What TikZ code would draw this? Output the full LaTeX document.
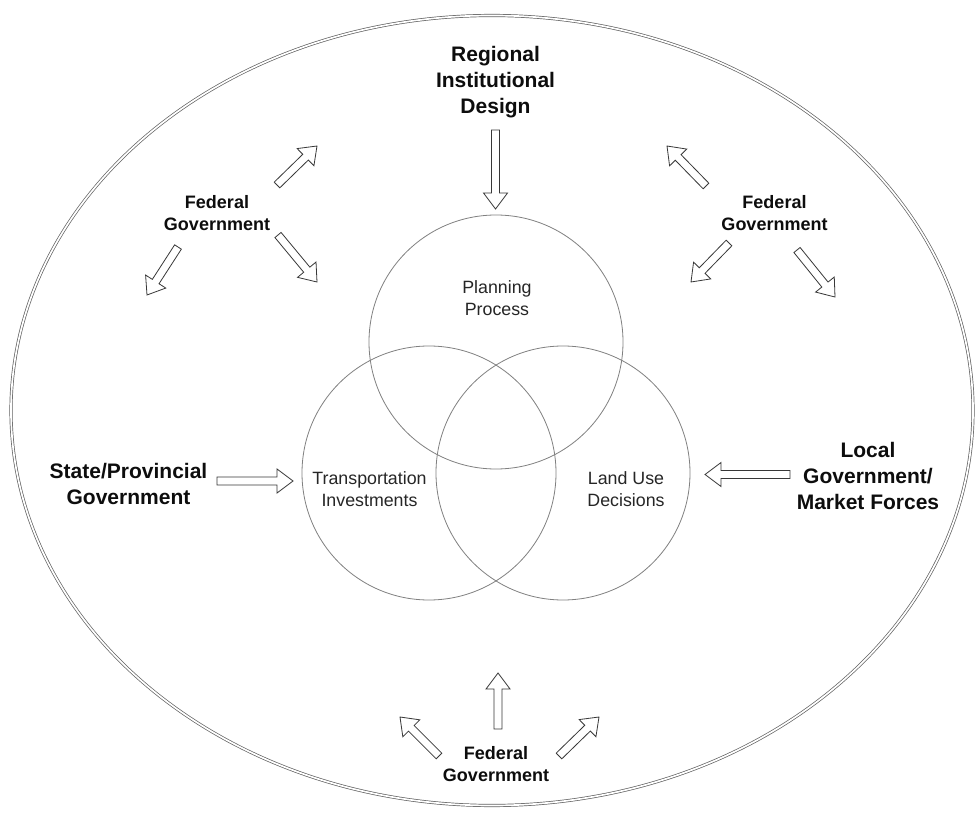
\documentclass[tikz,border=0pt]{standalone}
\usepackage{fontspec}
\setmainfont{Liberation Sans}
\usetikzlibrary{calc}

% hollow block arrow from #1 (tail) to #2 (tip)
\newcommand\blockarrow[2]{%
  \draw[blockarr]
    ($(#1)!4pt!90:(#2)$) --
    ($(#2)!16pt!(#1)!4pt!-90:(#1)$) --
    ($(#2)!16pt!(#1)!12pt!-90:(#1)$) --
    (#2) --
    ($(#2)!16pt!(#1)!12pt!90:(#1)$) --
    ($(#2)!16pt!(#1)!4pt!90:(#1)$) --
    ($(#1)!4pt!-90:(#2)$) -- cycle;}

\tikzset{
  blockarr/.style={draw=black!78, line width=0.8pt, fill=white, line join=miter},
  ring/.style={circle, draw=black!50, line width=0.8pt, minimum size=254pt, inner sep=0pt},
  biglabel/.style={align=center, text=black!95, font=\fontsize{21}{26}\selectfont\bfseries},
  fedlabel/.style={align=center, text=black!95, font=\fontsize{18}{22}\selectfont\bfseries},
  ringlabel/.style={align=center, text=black!85, font=\fontsize{17.8}{22}\selectfont},
  outer/.style={draw=black!62, line width=0.7pt, double=white, double distance=1.7pt}
}

\begin{document}
\begin{tikzpicture}[x=1pt, y=-1pt]
  \fill[white] (0,0) rectangle (975,813);
  \useasboundingbox (0,0) rectangle (975,813);

  % outer boundary
  \draw[outer] (492,410.5) ellipse [x radius=481, y radius=395];

  % the three overlapping circles
  \node[ring] (plan) at (496,342) {};
  \node[ring] (trans) at (429,473) {};
  \node[ring] (land) at (563,473) {};

  \node[ringlabel] (planT) at (497,298) {Planning\\Process};
  \node[ringlabel] (transT) at (369.5,489) {Transportation\\Investments};
  \node[ringlabel] (landT) at (626,489) {Land Use\\Decisions};

  % outside influences
  \node[biglabel] (region) at (495.5,82) {Regional\\Institutional\\Design};
  \node[biglabel] (state) at (128.5,484) {State/Provincial\\Government};
  \node[biglabel] (local) at (868,476) {Local\\Government/\\Market Forces};

  \node[fedlabel] (fedL) at (217,213) {Federal\\Government};
  \node[fedlabel] (fedR) at (774.5,213.5) {Federal\\Government};
  \node[fedlabel] (fedB) at (496,764.5) {Federal\\Government};

  % arrow end points
  \coordinate (rA) at (495.5,130);  \coordinate (rB) at (495.5,209);
  \coordinate (sA) at (217,481);    \coordinate (sB) at (293,481);
  \coordinate (lA) at (790,474.5);  \coordinate (lB) at (705,474.5);

  \coordinate (bUA) at (498,729);   \coordinate (bUB) at (498,673);
  \coordinate (bLA) at (439,756);   \coordinate (bLB) at (400,717);
  \coordinate (bRA) at (559,756);   \coordinate (bRB) at (599,717);

  \coordinate (tl1A) at (277,185);  \coordinate (tl1B) at (317,146);
  \coordinate (tl2A) at (278,235);  \coordinate (tl2B) at (317,282);
  \coordinate (tl3A) at (178,247);  \coordinate (tl3B) at (147,295);

  \coordinate (tr1A) at (706,186);  \coordinate (tr1B) at (667,146);
  \coordinate (tr2A) at (729,243);  \coordinate (tr2B) at (691,282);
  \coordinate (tr3A) at (797,250);  \coordinate (tr3B) at (835,297);

  % arrows
  \blockarrow{rA}{rB}
  \blockarrow{sA}{sB}
  \blockarrow{lA}{lB}
  \blockarrow{bUA}{bUB}
  \blockarrow{bLA}{bLB}
  \blockarrow{bRA}{bRB}
  \blockarrow{tl1A}{tl1B}
  \blockarrow{tl2A}{tl2B}
  \blockarrow{tl3A}{tl3B}
  \blockarrow{tr1A}{tr1B}
  \blockarrow{tr2A}{tr2B}
  \blockarrow{tr3A}{tr3B}
\end{tikzpicture}
\end{document}
